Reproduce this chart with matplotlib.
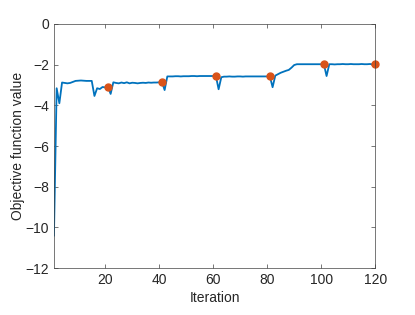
import numpy as np
import matplotlib
matplotlib.use("Agg")
import matplotlib.pyplot as plt

plt.rcParams['font.family'] = ['Liberation Sans', 'DejaVu Sans']

# objective value per iteration
iters = np.arange(1, 121)
obj = [-10.4, -3.16, -3.9, -2.88, -2.9, -2.92, -2.9, -2.85, -2.8, -2.79,
       -2.78, -2.79, -2.8, -2.8, -2.8, -3.54, -3.16, -3.2, -3.1, -3.12,
       -3.08, -3.44, -2.87, -2.9, -2.92, -2.88, -2.91, -2.87, -2.92, -2.89,
       -2.9, -2.92, -2.9, -2.89, -2.9, -2.88, -2.89, -2.88, -2.88, -2.87,
       -2.85, -3.25, -2.58, -2.58, -2.58, -2.57, -2.57, -2.58, -2.57, -2.57,
       -2.57, -2.56, -2.56, -2.57, -2.56, -2.56, -2.56, -2.56, -2.56, -2.56,
       -2.56, -3.21, -2.62, -2.59, -2.59, -2.58, -2.59, -2.59, -2.58, -2.58,
       -2.59, -2.58, -2.58, -2.58, -2.58, -2.58, -2.58, -2.58, -2.58, -2.58,
       -2.58, -3.11, -2.54, -2.47, -2.4, -2.35, -2.3, -2.26, -2.15, -2.02,
       -1.98, -1.98, -1.98, -1.98, -1.98, -1.98, -1.98, -1.98, -1.98, -1.98,
       -1.98, -2.56, -1.98, -1.98, -1.99, -1.98, -1.98, -1.97, -1.98, -1.98,
       -1.97, -1.98, -1.98, -1.98, -1.97, -1.98, -1.98, -1.97, -1.98, -1.98]

# best values marked
best_x = [21, 41, 61, 81, 101, 120]
best_y = [-3.08, -2.85, -2.56, -2.58, -1.98, -1.98]

fig = plt.figure(figsize=(4.15, 3.15), dpi=100)
ax = fig.add_axes([0.130, 0.149, 0.774, 0.775])

ax.plot(iters, obj, color='#0072BD', lw=1.3)
ax.plot(best_x, best_y, 'o', color='#D95319', ms=5, clip_on=False)

ax.set_xlim(1, 120)
ax.set_ylim(-12, 0)
ax.set_xticks([20, 40, 60, 80, 100, 120])
ax.set_yticks([0, -2, -4, -6, -8, -10, -12])
ax.set_xlabel('Iteration', fontsize=10, color='#262626', labelpad=3)
ax.set_ylabel('Objective function value', fontsize=10, color='#262626', labelpad=0)

for s in ax.spines.values():
    s.set_color('#404040')
    s.set_linewidth(0.5)
ax.tick_params(direction='in', length=3, width=0.5, color='#404040',
               labelcolor='#262626', labelsize=10, top=True, right=True)

fig.savefig('out.png', dpi=100)
